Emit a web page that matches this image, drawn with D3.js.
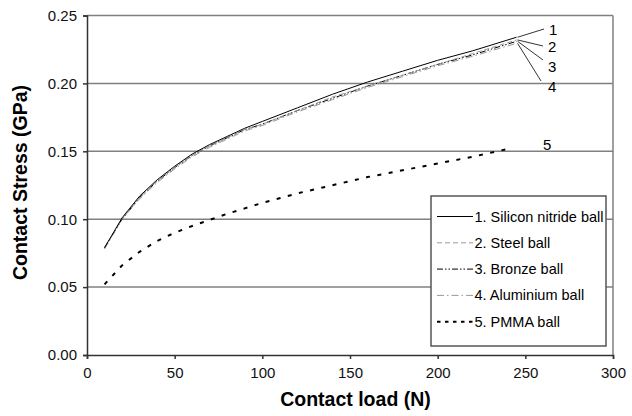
<!DOCTYPE html>
<html>
<head>
<meta charset="utf-8">
<script src="https://cdn.jsdelivr.net/npm/d3@7"></script>
<style>
  body { margin: 0; background: #fff; }
  svg { font-family: "Liberation Sans", Arial, sans-serif; }
</style>
</head>
<body>
<svg id="chart" width="632" height="416"></svg>
<script>
// loads (N)
const loads = [10, 20, 30, 40, 50, 60, 70, 80, 90, 100, 120, 140, 160, 180, 200, 220, 245]
const pmmaLoads = [10, 20, 30, 40, 50, 60, 70, 80, 90, 100, 120, 140, 160, 180, 200, 220, 241]

const siliconNitride = [0.079, 0.101, 0.117, 0.129, 0.139, 0.148, 0.155, 0.161, 0.167, 0.172, 0.182, 0.192, 0.201, 0.209, 0.217, 0.224, 0.234]
const steel          = [0.079, 0.100, 0.116, 0.128, 0.138, 0.147, 0.154, 0.160, 0.166, 0.170, 0.180, 0.190, 0.198, 0.206, 0.214, 0.222, 0.232]
const bronze         = [0.079, 0.100, 0.116, 0.128, 0.138, 0.147, 0.154, 0.160, 0.166, 0.170, 0.180, 0.189, 0.198, 0.206, 0.214, 0.221, 0.231]
const aluminium      = [0.078, 0.100, 0.115, 0.127, 0.137, 0.146, 0.153, 0.159, 0.165, 0.169, 0.179, 0.188, 0.197, 0.205, 0.213, 0.220, 0.2295]
const pmma           = [0.052, 0.066, 0.076, 0.084, 0.090, 0.095, 0.0995, 0.104, 0.108, 0.112, 0.119, 0.125, 0.131, 0.136, 0.141, 0.146, 0.152]

const seriesNames = ["1. Silicon nitride ball", "2. Steel ball", "3. Bronze ball", "4. Aluminium ball", "5. PMMA ball"]
const endLabels = ["1", "2", "3", "4", "5"]

const xTicks = [0, 50, 100, 150, 200, 250, 300]
const yTicks = [0, 0.05, 0.10, 0.15, 0.20, 0.25]

const styles = [
    {color: "#000", width: 1, dash: null, legendDash: null},
    {color: "#999", width: 1, dash: "5,3", legendDash: "5,3"},
    {color: "#000", width: 1, dash: "6,2,1.5,2,1.5,2", legendDash: "6,2,1.5,2,1.5,2"},
    {color: "#999", width: 1, dash: "7,3,1.5,3", legendDash: "7,3,1.5,3"},
    {color: "#000", width: 2, dash: "4,7.5", legendDash: "3.5,4.5"}
]

const svg = d3.select("#chart")
const margin = {left: 87, right: 19, top: 15.5, bottom: 61}
const W = 632, H = 416

const x = d3.scaleLinear().domain([0, 300]).range([margin.left, W - margin.right])
const y = d3.scaleLinear().domain([0, 0.25]).range([H - margin.bottom, margin.top])

// grid lines
svg.append("g")
    .selectAll("line")
    .data(yTicks.filter(d => d > 0))
    .enter()
    .append("line")
    .attr("x1", x(0)).attr("x2", x(300))
    .attr("y1", d => y(d)).attr("y2", d => y(d))
    .style("stroke", "#808080")
    .style("stroke-width", 1.5)

// right border of plot area
svg.append("line")
    .attr("x1", x(300)).attr("x2", x(300))
    .attr("y1", y(0.25)).attr("y2", y(0))
    .style("stroke", "#808080")
    .style("stroke-width", 1.5)

// axes
const xAxis = svg.append("g")
    .attr("transform", `translate(0,${y(0)})`)
    .call(d3.axisBottom(x).tickValues(xTicks).tickSize(4).tickFormat(d3.format("d")))
const yAxis = svg.append("g")
    .attr("transform", `translate(${x(0)},0)`)
    .call(d3.axisLeft(y).tickValues(yTicks).tickSize(4).tickFormat(d3.format(".2f")))

;[xAxis, yAxis].forEach(a => {
    a.select(".domain").style("stroke", "#333").style("stroke-width", 1.5)
    a.selectAll(".tick line").style("stroke", "#333").style("stroke-width", 1.5)
    a.selectAll(".tick text")
        .style("font-size", "15px")
        .style("fill", "#111")
        .style("font-family", "'Liberation Sans', Arial, sans-serif")
})
xAxis.selectAll(".tick text").attr("dy", "1.05em")
yAxis.selectAll(".tick text").attr("x", -10)

// series
const allSeries = [
    loads.map((l, i) => [l, siliconNitride[i]]),
    loads.map((l, i) => [l, steel[i]]),
    loads.map((l, i) => [l, bronze[i]]),
    loads.map((l, i) => [l, aluminium[i]]),
    pmmaLoads.map((l, i) => [l, pmma[i]])
]

const line = d3.line().x(d => x(d[0])).y(d => y(d[1]))

svg.append("g")
    .selectAll("path")
    .data(allSeries.slice().reverse())
    .enter()
    .append("path")
    .attr("d", line)
    .style("fill", "none")
    .style("stroke", (d, i) => styles[4 - i].color)
    .style("stroke-width", (d, i) => styles[4 - i].width)
    .style("stroke-dasharray", (d, i) => styles[4 - i].dash)

// leader lines and numbers at the line ends
const labelPos = [[549, 30], [548, 47], [548, 67], [548, 87], [543, 145]]
const leaderEnds = [[544, 29], [543, 46], [543, 60], [541, 81]]

svg.append("g")
    .selectAll("line")
    .data(leaderEnds)
    .enter()
    .append("line")
    .attr("x1", (d, i) => x(allSeries[i][allSeries[i].length - 1][0]) + 1)
    .attr("y1", (d, i) => y(allSeries[i][allSeries[i].length - 1][1]))
    .attr("x2", d => d[0]).attr("y2", d => d[1])
    .style("stroke", "#000")
    .style("stroke-width", 0.8)

svg.append("g")
    .selectAll("text")
    .data(endLabels)
    .enter()
    .append("text")
    .attr("x", (d, i) => labelPos[i][0])
    .attr("y", (d, i) => labelPos[i][1])
    .attr("dy", "0.35em")
    .style("font-size", "15px")
    .text(d => d)

// legend
const legend = svg.append("g").attr("transform", "translate(431,196)")
legend.append("rect")
    .attr("width", 175).attr("height", 150)
    .style("fill", "#fff")
    .style("stroke", "#555")
    .style("stroke-width", 1.5)

const entries = legend.selectAll("g")
    .data(seriesNames)
    .enter()
    .append("g")
    .attr("transform", (d, i) => `translate(0,${20.5 + i * 26.3})`)

entries.append("line")
    .attr("x1", 6).attr("x2", 42)
    .style("stroke", (d, i) => styles[i].color)
    .style("stroke-width", (d, i) => styles[i].width)
    .style("stroke-dasharray", (d, i) => styles[i].legendDash)

entries.append("text")
    .attr("x", 43.5)
    .attr("dy", "0.35em")
    .style("font-size", "14.5px")
    .text(d => d)

// axis titles
svg.append("text")
    .attr("x", 355.5).attr("y", 406)
    .attr("text-anchor", "middle")
    .style("font-size", "19.5px")
    .style("font-weight", "bold")
    .text("Contact load (N)")

svg.append("text")
    .attr("transform", "translate(27,182.5) rotate(-90)")
    .attr("text-anchor", "middle")
    .style("font-size", "19.5px")
    .style("font-weight", "bold")
    .text("Contact Stress (GPa)")
</script>
</body>
</html>
